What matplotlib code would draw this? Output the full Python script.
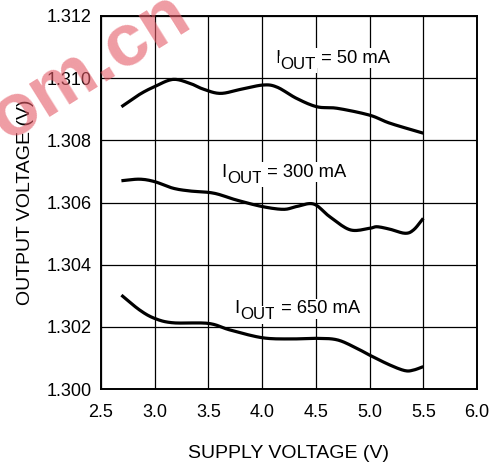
import numpy as np
import matplotlib
matplotlib.use("Agg")
from matplotlib import pyplot as plt
from matplotlib.ticker import FormatStrFormatter

plt.rcParams['font.family'] = ['Liberation Sans', 'DejaVu Sans']

# supply voltage (V) vs output voltage (V) for each load current
vin_50 = [2.69, 2.86, 3.0, 3.17, 3.33, 3.45, 3.61, 3.80, 4.01, 4.14, 4.32, 4.51, 4.70, 5.0, 5.19, 5.50]
vout_50 = [1.30908, 1.30948, 1.30973, 1.30996, 1.30983, 1.30965, 1.30951, 1.30964, 1.30978, 1.30971,
           1.30935, 1.30908, 1.30903, 1.30881, 1.30855, 1.30823]

vin_300 = [2.69, 2.86, 3.0, 3.17, 3.33, 3.55, 3.76, 4.0, 4.20, 4.32, 4.48, 4.63, 4.82, 5.0, 5.07,
           5.19, 5.33, 5.41, 5.50]
vout_300 = [1.30670, 1.30675, 1.30667, 1.30646, 1.30637, 1.30630, 1.30608, 1.30587, 1.30578, 1.30587,
            1.30595, 1.30554, 1.30512, 1.30517, 1.30522, 1.30514, 1.30501, 1.30512, 1.30549]

vin_650 = [2.69, 2.86, 3.0, 3.17, 3.5, 3.70, 4.0, 4.26, 4.5, 4.70, 4.88, 5.0, 5.19, 5.33, 5.41, 5.50]
vout_650 = [1.30302, 1.30254, 1.30227, 1.30213, 1.30211, 1.30190, 1.30165, 1.30161, 1.30163, 1.30158,
            1.30131, 1.30109, 1.30077, 1.30059, 1.30061, 1.30072]

labels = ["50", "300", "650"]
label_pos = [(4.12, 1.31049), (3.62, 1.30683), (3.745, 1.30243)]

x_ticks = np.arange(2.5, 6.01, 0.5)
y_ticks = np.arange(1.300, 1.3121, 0.002)


def smooth(x, y, n=200):
    # Catmull-Rom resampling between the read-off points
    x = np.asarray(x, dtype=float)
    y = np.asarray(y, dtype=float)
    tt = np.linspace(0, len(x) - 1, n)
    px = np.concatenate([[2 * x[0] - x[1]], x, [2 * x[-1] - x[-2]]])
    py = np.concatenate([[2 * y[0] - y[1]], y, [2 * y[-1] - y[-2]]])
    xs, ys = [], []
    for u in tt:
        i = min(int(u), len(x) - 2)
        s = u - i
        for arr, out in ((px, xs), (py, ys)):
            a0, a1, a2, a3 = arr[i], arr[i + 1], arr[i + 2], arr[i + 3]
            out.append(0.5 * ((2 * a1) + (-a0 + a2) * s + (2 * a0 - 5 * a1 + 4 * a2 - a3) * s ** 2
                              + (-a0 + 3 * a1 - 3 * a2 + a3) * s ** 3))
    return np.array(xs), np.array(ys)


def iout_label(ax, x, y, value, size=13.2, sub_size=12.2):
    # I, subscript OUT, then "= value mA", each piece on a white patch
    box = dict(boxstyle="square,pad=0.08", fc="white", ec="none")
    renderer = ax.figure.canvas.get_renderer()
    t1 = ax.text(x, y, "I", fontsize=size, va="baseline", ha="left", bbox=box, zorder=4)
    w1 = t1.get_window_extent(renderer).width
    t2 = ax.annotate("OUT", xy=(x, y), xytext=(w1 + 0.5, -6), textcoords="offset pixels",
                     fontsize=sub_size, va="baseline", ha="left", bbox=box, zorder=4)
    w2 = t2.get_window_extent(renderer).width
    ax.annotate(" = " + value + " mA", xy=(x, y), xytext=(w1 + w2 + 0.5, 0), textcoords="offset pixels",
                fontsize=size, va="baseline", ha="left", bbox=box, zorder=4)


fig = plt.figure(figsize=(5.04, 4.66), dpi=100)
ax = fig.add_axes([101 / 504, 1 - 389 / 466, 376 / 504, 373 / 466])

for vin, vout in ((vin_50, vout_50), (vin_300, vout_300), (vin_650, vout_650)):
    sx, sy = smooth(vin, vout)
    ax.plot(sx, sy, color="black", lw=2.3, solid_capstyle="butt", zorder=3)

ax.set_xlim(2.5, 6.0)
ax.set_ylim(1.300, 1.312)
ax.set_xticks(x_ticks)
ax.set_yticks(y_ticks)
ax.xaxis.set_major_formatter(FormatStrFormatter("%.1f"))
ax.yaxis.set_major_formatter(FormatStrFormatter("%.3f"))
ax.tick_params(length=0, labelsize=13)
ax.tick_params(axis="x", pad=11)
ax.tick_params(axis="y", pad=7)
ax.grid(True, color="black", lw=0.9)
ax.set_axisbelow(True)
for sp in ax.spines.values():
    sp.set_linewidth(1.4)
    sp.set_zorder(5)

ax.set_xlabel("SUPPLY VOLTAGE (V)", fontsize=14, labelpad=17)
ax.set_ylabel("OUTPUT VOLTAGE (V)", fontsize=14, labelpad=9)

for lab, (lx, ly) in zip(labels, label_pos):
    iout_label(ax, lx, ly, lab)

# site watermark in the top-left corner
fig.text(90 / 504, 1 - 68 / 466, "om.cn", color="#e45a66", alpha=0.6, fontsize=54, fontweight="bold",
         rotation=32, ha="center", va="center", rotation_mode="anchor", zorder=0)

fig.savefig("out.png", dpi=100)
